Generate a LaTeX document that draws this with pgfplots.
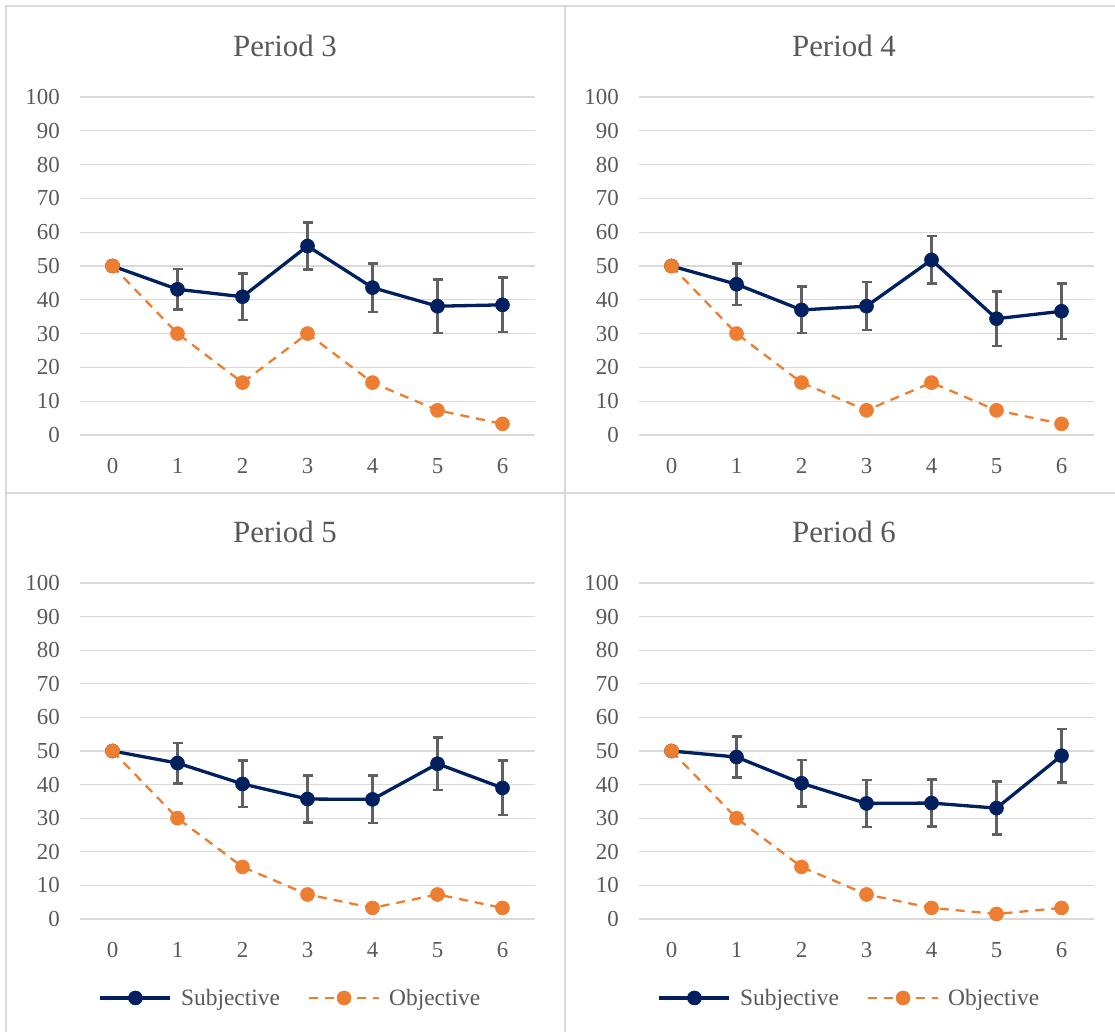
\documentclass[border=0pt]{standalone}
\usepackage{fontspec}
\setmainfont{Liberation Serif}
\usepackage{pgfplots}
\pgfplotsset{compat=1.18}
\usepackage{pgfplotstable}
\definecolor{navy}{HTML}{002060}
\definecolor{orng}{HTML}{ED7D31}
\definecolor{gridgray}{HTML}{D9D9D9}
\definecolor{txtgray}{HTML}{595959}
\definecolor{ebgray}{HTML}{606060}

\pgfplotstableread{
x y e
0 50 0
1 43.1 6.0
2 40.9 6.9
3 55.9 7.0
4 43.6 7.2
5 38.1 7.9
6 38.5 8.1
}\subjA
\pgfplotstableread{
x y
0 50
1 30
2 15.5
3 30
4 15.5
5 7.3
6 3.3
}\objA
\pgfplotstableread{
x y e
0 50 0
1 44.6 6.1
2 37.0 6.9
3 38.1 7.1
4 51.8 7.0
5 34.4 8.0
6 36.6 8.2
}\subjB
\pgfplotstableread{
x y
0 50
1 30
2 15.5
3 7.3
4 15.5
5 7.3
6 3.3
}\objB
\pgfplotstableread{
x y e
0 50 0
1 46.4 6.0
2 40.2 6.9
3 35.7 7.0
4 35.6 7.1
5 46.2 7.8
6 39.0 8.1
}\subjC
\pgfplotstableread{
x y
0 50
1 30
2 15.5
3 7.3
4 3.3
5 7.3
6 3.3
}\objC
\pgfplotstableread{
x y e
0 50 0
1 48.2 6.1
2 40.4 6.9
3 34.4 7.0
4 34.5 7.0
5 33.0 7.9
6 48.6 8.0
}\subjD
\pgfplotstableread{
x y
0 50
1 30
2 15.5
3 7.3
4 3.3
5 1.5
6 3.3
}\objD

\pgfplotsset{
  panel/.style={
    scale only axis, width=455bp, height=338bp,
    xmin=-0.5, xmax=6.5, ymin=0, ymax=100,
    ytick={0,10,...,100}, xtick={0,...,6},
    axis line style={draw=none}, tick style={draw=none},
    major tick length=0pt,
    ymajorgrids, grid style={line width=1.3bp, gridgray},
    clip=false,
    /pgf/number format/assume math mode=true,
    tick label style={font=\fontsize{23}{23}\selectfont, text=txtgray},
    yticklabel style={anchor=east, inner sep=0pt, xshift=-20bp},
    xticklabel style={anchor=north, inner sep=0pt, yshift=-23bp},
    title style={at={(axis description cs:0.4505,1)}, anchor=center, yshift=45bp,
      font=\fontsize{31}{31}\selectfont, text=txtgray},
  },
  subj/.style={navy, line width=3.3bp, mark=*, mark size=7bp,
    mark options={solid, fill=navy, draw=navy, line width=0.6bp},
    error bars/.cd, y dir=both, y explicit,
    error bar style={line width=2.5bp, ebgray},
    error mark=|,
    error mark options={mark size=5bp, line width=2.5bp, ebgray, solid}},
  obj/.style={orng, line width=2.3bp, dash pattern=on 9bp off 7bp,
    mark=*, mark size=7bp, mark options={solid, fill=orng, draw=orng, line width=0.6bp}},
  leg/.style={
    legend columns=2,
    legend style={at={(axis description cs:0.4626,-0.235)}, anchor=center,
      draw=none, fill=none, font=\fontsize{23.5}{23.5}\selectfont, text=txtgray,
      /tikz/every odd column/.append style={column sep=7bp},
      /tikz/every even column/.append style={column sep=26bp}},
    legend image code/.code={\draw[mark repeat=2, mark phase=2]
      plot coordinates {(0bp,0bp) (35bp,0bp) (70bp,0bp)};},
  },
}

\begin{document}
\begin{tikzpicture}[x=1bp,y=1bp]
\useasboundingbox (0,0) rectangle (1115,1032);
\draw[gridgray, line width=1.3bp] (6,0) -- (6,1026) -- (1115,1026);
\draw[gridgray, line width=1.3bp] (565,0) -- (565,1026);
\draw[gridgray, line width=1.3bp] (6,539) -- (1115,539);

\begin{axis}[panel, at={(80bp,597bp)}, anchor=south west, title={Period 3}]
\addplot[subj] table[x=x, y=y, y error=e] {\subjA};
\addplot[obj] table[x=x, y=y] {\objA};
\end{axis}

\begin{axis}[panel, at={(639bp,597bp)}, anchor=south west, title={Period 4}]
\addplot[subj] table[x=x, y=y, y error=e] {\subjB};
\addplot[obj] table[x=x, y=y] {\objB};
\end{axis}

\begin{axis}[panel, leg, height=336bp, at={(80bp,113bp)}, anchor=south west, title={Period 5}]
\addplot[subj] table[x=x, y=y, y error=e] {\subjC};
\addlegendentry{Subjective}
\addplot[obj] table[x=x, y=y] {\objC};
\addlegendentry{Objective}
\end{axis}

\begin{axis}[panel, leg, height=336bp, at={(639bp,113bp)}, anchor=south west, title={Period 6}]
\addplot[subj] table[x=x, y=y, y error=e] {\subjD};
\addlegendentry{Subjective}
\addplot[obj] table[x=x, y=y] {\objD};
\addlegendentry{Objective}
\end{axis}
\end{tikzpicture}
\end{document}
